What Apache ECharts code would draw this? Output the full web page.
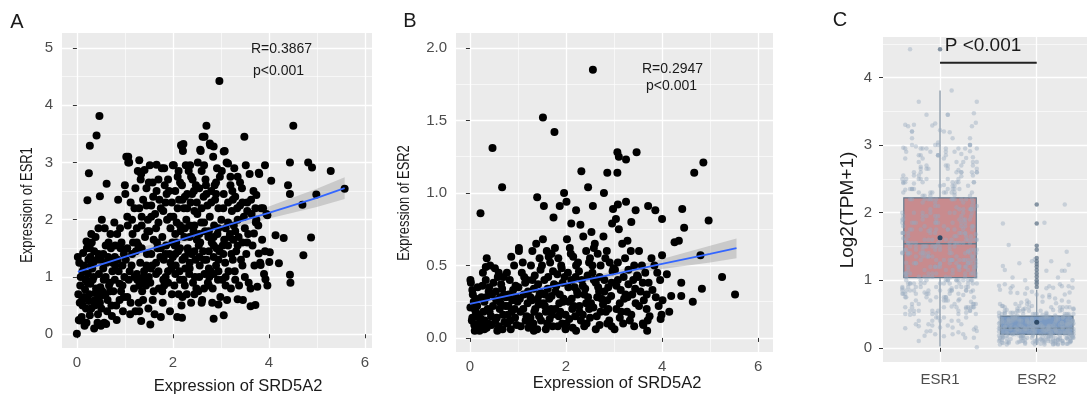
<!DOCTYPE html>
<html>
<head>
<meta charset="utf-8">
<script src="https://cdn.jsdelivr.net/npm/echarts@6/dist/echarts.min.js"></script>
<style>
  html, body { margin: 0; padding: 0; background: #fff; }
  #chart { width: 1087px; height: 399px; }
</style>
</head>
<body>
<div id="chart"></div>
<script>
// panel A: SRD5A2 (x) vs ESR1 (y)
const esr1Sparse = [
  [2.97,4.42],[0.47,3.81],[0.41,3.47],[0.27,3.29],[0.25,2.81],[0.22,2.34],[0.48,2.41],[0.62,2.63],[4.51,3.64],[2.7,3.64],
  [3.49,3.45],[2.66,3.45],[4.82,3.0],[4.9,2.91],[5.29,2.85],[5.58,2.54],[4.99,2.44],[4.7,2.26],[4.44,2.45],[4.4,2.6],
  [4.44,3.0],[4.88,1.69],[4.72,1.38],[4.44,1.04],[4.45,0.9],[4.31,1.68],[4.21,1.24],[4.14,1.73],[4.02,1.43],[4.01,1.26],
  [3.97,2.08],[4.05,2.68],[3.92,2.95],[3.79,2.82],[3.74,2.43],[3.63,2.35],[3.72,2.2],[3.69,1.76],[3.79,1.41],[3.83,1.21],
  [3.93,0.96],[3.76,0.83],[3.72,0.51],[3.62,0.49],[3.35,0.61],[2.85,0.27],[3.06,0.33],[2.95,0.52],[2.19,0.29],[1.53,0.17],
  [1.34,0.23],[0.36,0.1],[0.0,0.01],[0.06,0.24],[0.27,0.33],[1.07,3.1],[1.07,3.0],[1.3,3.04],[1.41,2.87],[1.66,2.96],
  [1.82,2.9],[2.0,2.95],[2.19,3.28],[2.22,3.32],[2.36,2.95],[2.85,3.28],[3.06,3.19],[3.15,2.98],[2.77,3.33],[2.57,3.22],
  [0.02,1.35],[0.05,1.25],[0.12,1.1],[0.08,1.0],[0.18,0.95],[0.03,0.7],[0.15,0.65],[0.06,0.55],[0.1,0.3],[0.04,0.25],
  [0.2,0.2],[0.22,0.9],[0.14,1.2],[0.21,1.5],[0.11,0.6],[0.19,0.45],[0.07,0.85],[0.24,1.3],[0.16,0.15],
  [0.27,1.5],[0.31,1.6],[0.36,1.45],[0.42,1.3],[0.29,1.2],[0.46,1.05],[0.33,0.95],[0.4,0.8],[0.26,0.7],[0.38,0.6],
  [0.48,0.55],[0.3,0.45],[0.44,0.35],[0.39,1.7],[0.47,0.65],[0.28,1.35],[0.35,1.0],[0.43,0.2],[0.5,0.15],[0.32,1.15],
  [0.52,2.0],[0.58,1.85],[0.66,1.6],[0.71,1.5],[0.55,1.4],[0.62,1.25],[0.74,1.1],[0.6,1.0],[0.69,0.9],[0.53,0.75],
  [0.64,0.6],[0.72,0.5],[0.57,0.2],[0.7,1.75],[0.5,1.3],[0.67,0.85],[0.56,0.95],[0.61,0.18],
  [0.78,1.95],[0.84,1.75],[0.91,1.5],[0.98,1.4],[0.8,1.2],[0.87,1.1],[0.95,0.85],[0.76,0.75],[0.89,0.6],[0.82,0.5],
  [0.96,0.4],[0.93,1.6],[0.79,1.35],[0.99,1.0],[0.86,2.35],
  [1.03,3.1],[1.09,3.0],[1.0,2.6],[1.12,2.3],[1.2,2.2],[1.06,1.9],[1.16,1.75],[1.23,1.45],[1.02,1.3],[1.14,1.2],
  [1.08,0.95],[1.19,0.8],[1.05,0.65],[1.22,0.4],[1.11,0.35],[1.17,1.6],[1.25,1.05],[1.01,2.45],
  [1.27,2.85],[1.33,2.7],[1.45,2.55],[1.38,2.35],[1.3,2.2],[1.48,2.0],[1.35,1.9],[1.42,1.7],[1.28,1.55],[1.46,1.4],
  [1.32,1.25],[1.4,1.1],[1.26,0.95],[1.44,0.85],[1.36,0.75],[1.3,0.4],[1.49,0.45],[1.34,2.8],[1.47,1.8],[1.39,1.0],[1.29,0.55],
  [1.52,2.95],[1.58,2.65],[1.66,2.5],[1.72,2.35],[1.55,2.25],[1.63,2.1],[1.7,1.95],[1.51,1.8],[1.6,1.65],[1.68,1.5],
  [1.74,1.35],[1.57,1.2],[1.65,1.05],[1.53,0.9],[1.71,0.8],[1.62,0.35],[1.75,0.3],[1.59,2.4],[1.67,1.6],[1.54,1.15],
  [1.77,2.9],[1.83,2.6],[1.92,2.5],[1.98,2.3],[1.8,2.15],[1.88,2.0],[1.95,1.85],[1.78,1.7],[1.86,1.55],[1.93,1.4],
  [1.81,1.3],[1.97,1.15],[1.85,1.0],[1.9,0.9],[1.79,0.55],[1.94,0.4],[1.87,2.45],[1.99,1.6],[1.82,0.85],
  [2.17,3.3],[2.21,3.2],[2.02,2.95],[2.1,2.75],[2.19,2.6],[2.05,2.5],[2.13,2.35],[2.23,2.2],[2.01,2.05],[2.08,1.95],
  [2.16,1.8],[2.24,1.7],[2.04,1.55],[2.11,1.45],[2.2,1.3],[2.06,1.2],[2.14,1.1],[2.22,0.95],[2.03,0.85],[2.12,0.7],
  [2.18,0.5],[2.09,0.3],[2.15,2.65],[2.25,2.4],[2.07,1.6],[2.0,1.35],
  [2.27,2.95],[2.33,2.85],[2.41,2.7],[2.48,2.6],[2.3,2.45],[2.37,2.3],[2.45,2.15],[2.28,2.0],[2.35,1.9],[2.43,1.8],
  [2.5,1.65],[2.31,1.5],[2.39,1.4],[2.47,1.3],[2.26,1.15],[2.34,1.05],[2.42,0.9],[2.49,0.8],[2.29,0.7],[2.38,0.55],
  [2.44,2.5],[2.32,1.45],[2.46,1.0],
  [2.62,3.45],[2.58,3.2],[2.52,3.0],[2.6,2.85],[2.68,2.7],[2.55,2.55],[2.64,2.4],[2.72,2.25],[2.51,2.1],[2.59,1.95],
  [2.67,1.8],[2.74,1.7],[2.54,1.55],[2.63,1.45],[2.7,1.3],[2.56,1.2],[2.66,1.05],[2.73,0.9],[2.53,0.75],[2.61,0.6],
  [2.69,2.6],[2.57,1.6],[2.75,0.85],
  [2.78,3.3],[2.84,3.1],[2.92,2.9],[2.98,2.75],[2.8,2.5],[2.88,2.35],[2.95,2.2],[2.77,2.05],[2.86,1.9],[2.93,1.75],
  [2.81,1.6],[2.97,1.45],[2.85,1.35],[2.9,1.2],[2.79,1.1],[2.94,0.95],[2.83,0.8],[2.99,0.65],[2.87,2.6],[2.91,1.5],[2.76,1.0],
  [3.08,3.2],[3.12,3.0],[3.02,2.85],[3.2,2.6],[3.06,2.45],[3.15,2.3],[3.23,2.15],[3.01,2.0],[3.1,1.85],[3.18,1.7],
  [3.04,1.55],[3.22,1.4],[3.09,1.25],[3.16,1.1],[3.03,0.95],[3.21,0.8],[3.13,0.6],[3.24,2.5],[3.07,1.65],[3.19,1.75],
  [3.28,2.9],[3.35,2.75],[3.44,2.55],[3.3,2.4],[3.4,2.25],[3.48,2.05],[3.27,1.9],[3.37,1.7],[3.45,1.6],[3.32,1.45],
  [3.42,1.3],[3.29,1.1],[3.38,0.85],[3.46,0.6],[3.34,2.2],[3.26,1.65],
  [3.52,2.95],[3.6,2.8],[3.68,2.5],[3.55,2.3],[3.64,2.1],[3.73,1.95],[3.57,1.75],[3.66,1.55],[3.53,1.4],[3.7,1.2],
  [3.58,0.9],[3.62,0.8],[3.74,2.0],
  [3.8,2.8],[3.88,2.2],[3.95,2.1],[3.78,1.9],[3.86,1.65],[3.92,1.45],[3.82,1.25],[3.9,1.05],[3.97,0.85],[3.84,2.2]
];
// the dense middle of panel A
const esr1Core = [
  [0.13,1.42],[0.23,1.05],[0.34,1.25],[0.45,1.4],[0.55,1.15],[0.65,1.35],[0.75,1.25],[0.85,1.3],[0.95,1.2],[0.17,0.78],
  [0.28,0.88],[0.39,0.72],[0.49,0.82],[0.59,0.68],[0.69,0.75],[0.79,0.95],[0.89,0.88],[0.98,0.65],[0.12,0.5],[0.25,0.58],
  [0.37,0.5],[0.51,0.45],[0.63,0.4],[0.73,0.32],[0.83,0.25],[0.92,0.75],[0.3,1.75],[0.45,1.85],[0.6,1.55],[0.8,1.55],
  [0.9,1.85],[0.2,1.62],
  [1.05,1.5],[1.15,1.4],[1.25,1.6],[1.35,1.5],[1.45,1.2],[1.55,1.4],[1.65,1.25],[1.75,1.5],[1.85,1.4],[1.95,1.25],
  [1.1,1.1],[1.2,1.0],[1.3,0.85],[1.4,0.9],[1.5,1.0],[1.6,0.75],[1.7,1.1],[1.8,0.95],[1.9,1.1],[1.05,2.05],
  [1.15,2.0],[1.25,1.85],[1.35,2.05],[1.45,2.25],[1.55,2.05],[1.65,1.85],[1.75,2.2],[1.85,2.3],[1.95,2.05],[1.12,0.55],
  [1.38,0.6],[1.58,0.6],[1.78,0.75],[1.98,0.7],[1.22,2.55],[1.5,2.65],[1.7,2.7],[1.9,2.7],
  [2.05,1.75],[2.15,1.9],[2.25,1.85],[2.35,1.7],[2.45,1.9],[2.55,1.75],[2.65,1.95],[2.75,1.8],[2.85,1.7],[2.95,1.85],
  [2.05,1.4],[2.15,1.5],[2.25,1.35],[2.35,1.25],[2.45,1.45],[2.55,1.35],[2.65,1.3],[2.75,1.45],[2.85,1.55],[2.95,1.3],
  [2.05,1.05],[2.15,0.95],[2.25,0.85],[2.35,1.15],[2.45,0.7],[2.55,1.0],[2.65,0.8],[2.75,1.15],[2.85,1.05],[2.95,1.1],
  [2.1,2.2],[2.2,2.35],[2.3,2.2],[2.4,2.45],[2.5,2.3],[2.6,2.2],[2.7,2.45],[2.8,2.3],[2.9,2.45],[2.12,2.85],
  [2.38,2.75],[2.65,2.95],[2.9,2.65],[2.2,0.65],[2.6,0.55],[2.82,0.55],
  [3.05,2.2],[3.15,1.95],[3.25,2.35],[3.35,2.0],[3.45,2.3],[3.55,2.15],[3.05,1.4],[3.15,1.55],[3.25,1.3],[3.35,1.55],
  [3.45,1.2],[3.55,1.6],[3.1,0.85],[3.3,0.95],[3.5,1.0],[3.2,2.75],[3.4,2.65],[3.1,1.0],[3.3,1.8],[3.5,1.85]
];

// panel B: SRD5A2 (x) vs ESR2 (y)
const esr2Sparse = [
  [2.56,1.85],[1.52,1.52],[1.76,1.42],[0.47,1.31],[0.67,1.04],[0.22,0.86],[3.07,1.28],[3.1,1.25],[3.25,1.23],[3.47,1.28],
  [3.07,1.14],[2.32,1.15],[2.86,1.14],[2.46,1.04],[2.79,1.0],[1.4,0.97],[1.96,1.0],[4.67,1.14],[4.86,1.21],[4.42,0.89],
  [4.97,0.81],[4.46,0.76],[4.0,0.82],[3.86,0.88],[3.71,0.91],[3.45,0.88],[3.25,0.94],[3.08,0.92],[4.26,0.66],[4.35,0.67],
  [5.25,0.42],[5.52,0.3],[4.83,0.34],[4.64,0.25],[4.4,0.38],[4.4,0.29],[4.19,0.29],[4.15,0.18],[3.97,0.13],[4.01,0.26],
  [4.1,0.44],[4.8,0.57],[4.0,0.57],[3.69,0.05],[3.61,0.09],[3.01,0.06],[2.21,0.05],[1.33,0.05],[0.1,0.05],[0.01,0.21],
  [0.01,0.4],[1.54,0.91],[1.74,0.83],[1.87,0.91],[2.01,0.94],[2.21,0.88],[2.56,0.91],[2.98,0.89],[2.96,0.79],[3.36,0.8],
  [2.11,0.79],[1.02,0.62],[0.86,0.56],[0.35,0.55],[0.33,0.49],
  [0.02,0.38],[0.06,0.3],[0.1,0.2],[0.14,0.15],[0.04,0.12],[0.18,0.1],[0.22,0.08],[0.08,0.25],[0.16,0.35],[0.12,0.18],
  [0.2,0.05],[0.24,0.28],[0.05,0.14],[0.15,0.22],
  [0.27,0.45],[0.33,0.4],[0.4,0.35],[0.46,0.3],[0.3,0.25],[0.37,0.2],[0.44,0.15],[0.26,0.1],[0.35,0.07],[0.42,0.5],
  [0.48,0.22],[0.31,0.12],[0.39,0.32],[0.28,0.18],[0.45,0.09],
  [0.52,0.48],[0.58,0.42],[0.65,0.37],[0.71,0.3],[0.55,0.26],[0.62,0.2],[0.69,0.16],[0.53,0.12],[0.6,0.08],[0.67,0.34],
  [0.74,0.22],[0.57,0.05],[0.63,0.28],[0.72,0.11],
  [0.77,0.45],[0.83,0.4],[0.9,0.33],[0.96,0.28],[0.8,0.22],[0.87,0.18],[0.94,0.14],[0.78,0.1],[0.85,0.06],[0.92,0.5],
  [0.99,0.25],[0.81,0.3],[0.97,0.09],
  [1.02,0.6],[1.08,0.45],[1.15,0.38],[1.21,0.32],[1.04,0.27],[1.11,0.2],[1.18,0.15],[1.24,0.1],[1.06,0.08],[1.13,0.42],
  [1.2,0.24],[1.01,0.35],[1.16,0.12],
  [1.38,0.65],[1.3,0.6],[1.45,0.55],[1.27,0.5],[1.35,0.43],[1.42,0.37],[1.48,0.31],[1.29,0.26],[1.36,0.2],[1.44,0.15],
  [1.32,0.1],[1.4,0.06],[1.47,0.47],[1.26,0.28],[1.34,0.18],[1.43,0.23],
  [1.52,0.68],[1.6,0.6],[1.67,0.52],[1.73,0.46],[1.55,0.4],[1.62,0.34],[1.7,0.29],[1.53,0.24],[1.58,0.18],[1.66,0.13],
  [1.72,0.08],[1.64,0.56],[1.56,0.3],[1.69,0.2],[1.75,0.37],[1.61,0.1],
  [1.77,0.62],[1.84,0.55],[1.91,0.48],[1.97,0.42],[1.8,0.36],[1.87,0.3],[1.94,0.25],[1.78,0.2],[1.85,0.15],[1.92,0.1],
  [1.99,0.06],[1.82,0.44],[1.95,0.27],[1.88,0.18],
  [2.02,0.68],[2.08,0.62],[2.15,0.56],[2.21,0.5],[2.04,0.45],[2.11,0.4],[2.18,0.35],[2.24,0.3],[2.06,0.25],[2.13,0.2],
  [2.19,0.15],[2.01,0.1],[2.1,0.58],[2.23,0.32],[2.16,0.22],[2.07,0.13],
  [2.3,0.78],[2.36,0.7],[2.42,0.6],[2.48,0.52],[2.27,0.46],[2.33,0.4],[2.4,0.34],[2.46,0.28],[2.28,0.22],[2.35,0.16],
  [2.43,0.1],[2.5,0.55],[2.38,0.3],[2.45,0.43],[2.31,0.12],
  [2.53,0.73],[2.6,0.65],[2.66,0.58],[2.72,0.5],[2.55,0.45],[2.62,0.38],[2.69,0.32],[2.74,0.27],[2.57,0.21],[2.64,0.15],
  [2.7,0.09],[2.58,0.62],[2.67,0.35],[2.52,0.24],
  [2.78,0.7],[2.85,0.6],[2.91,0.52],[2.97,0.46],[2.8,0.4],[2.88,0.35],[2.94,0.29],[2.77,0.23],[2.83,0.18],[2.9,0.12],
  [2.99,0.48],[2.86,0.26],[2.95,0.08],
  [3.04,0.82],[3.1,0.75],[3.17,0.65],[3.23,0.55],[3.02,0.47],[3.08,0.4],[3.14,0.33],[3.21,0.27],[3.05,0.2],[3.12,0.14],
  [3.19,0.1],[3.24,0.3],
  [3.28,0.67],[3.35,0.6],[3.42,0.5],[3.48,0.43],[3.3,0.37],[3.38,0.3],[3.45,0.24],[3.27,0.18],[3.33,0.12],[3.4,0.4],
  [3.52,0.6],[3.58,0.5],[3.65,0.45],[3.72,0.38],[3.55,0.32],[3.62,0.26],[3.68,0.2],[3.74,0.15],[3.6,0.1],
  [3.78,0.55],[3.84,0.5],[3.9,0.45],[3.96,0.4],[3.8,0.33],[3.87,0.28],[3.93,0.22],[3.99,0.16]
];
// the dense bottom of panel B
const esr2Core = [
  [0.05,0.33],[0.12,0.27],[0.19,0.16],[0.26,0.36],[0.34,0.28],[0.41,0.18],[0.49,0.38],[0.56,0.14],[0.64,0.24],[0.7,0.42],
  [0.79,0.16],[0.88,0.26],[0.95,0.36],[0.09,0.09],[0.23,0.13],[0.38,0.1],[0.54,0.32],[0.68,0.06],[0.84,0.12],[0.93,0.2],
  [0.3,0.06],[0.6,0.45],[0.75,0.28],
  [1.05,0.18],[1.12,0.3],[1.19,0.4],[1.26,0.14],[1.33,0.34],[1.41,0.27],[1.48,0.12],[1.56,0.22],[1.63,0.42],[1.71,0.16],
  [1.78,0.32],[1.86,0.24],[1.93,0.38],[1.99,0.16],[1.1,0.52],[1.3,0.4],[1.5,0.5],[1.7,0.58],[1.9,0.5],[1.22,0.07],
  [1.58,0.06],[1.83,0.08],[1.45,0.3],[1.65,0.27],
  [2.05,0.35],[2.12,0.27],[2.2,0.42],[2.28,0.18],[2.35,0.36],[2.42,0.24],[2.5,0.14],[2.58,0.4],[2.65,0.28],[2.72,0.18],
  [2.8,0.32],[2.88,0.2],[2.95,0.38],[2.14,0.07],[2.38,0.08],[2.62,0.06],[2.86,0.1],[2.25,0.52],[2.55,0.5],[2.82,0.55],
  [2.48,0.2],[2.7,0.42],
  [3.05,0.36],[3.12,0.24],[3.2,0.42],[3.28,0.28],[3.36,0.16],[3.44,0.34],[3.52,0.22],[3.6,0.38],[3.68,0.3],[3.08,0.52],
  [3.3,0.47],[3.5,0.42],[3.15,0.18],[3.42,0.08],[3.7,0.12]
];

// fitted lines and confidence bands
const fitAX = [0.02, 1, 2, 3, 4, 5, 5.58];
const fitAY = [1.09, 1.35, 1.61, 1.87, 2.12, 2.38, 2.55];
const fitALo = [0.97, 1.26, 1.55, 1.79, 2.02, 2.22, 2.36];
const fitAHi = [1.21, 1.44, 1.67, 1.95, 2.23, 2.54, 2.74];

const fitBX = [0.0, 1, 2, 3, 4, 5, 5.55];
const fitBY = [0.235, 0.305, 0.375, 0.44, 0.51, 0.58, 0.62];
const fitBLo = [0.2, 0.285, 0.36, 0.42, 0.475, 0.52, 0.55];
const fitBHi = [0.27, 0.325, 0.39, 0.46, 0.545, 0.635, 0.685];

// panel C: boxes [x, whiskerLow, q1, median, q3, whiskerHigh]
const boxNames = ['ESR1', 'ESR2'];
const boxStats = [
  [1, 0.02, 1.04, 1.54, 2.22, 3.81],
  [2, 0.04, 0.2, 0.29, 0.47, 0.86]
];
const boxMeans = [[1, 1.63], [2, 0.38]];
const esr1Outliers = [4.42];
const esr2Outliers = [2.12, 1.84, 1.51, 1.45, 1.33, 1.28, 1.24, 1.2, 1.15, 1.1, 1.05, 1.0, 0.95, 0.9];
const extraEsr2 = [2.12, 1.84];
const jitterOffsets = [-0.31,0.12,0.35,-0.08,0.27,-0.36,0.04,0.19,-0.22,0.38,-0.14,0.08,-0.29,0.31,-0.02,0.22,
  -0.38,0.15,-0.18,0.33,-0.05,0.26,-0.33,0.1,-0.25,0.37,0.0,-0.12,0.29,-0.35,0.17,-0.2,0.06,0.34,-0.27,0.13,
  -0.1,0.24,-0.39,0.2,-0.16,0.32,-0.04];
const sigBar = [[1, 4.22], [2, 4.22]];

const FONT = "'Liberation Sans', Arial, sans-serif";
const boxFill = ['#c88b8e', '#7b9ac2'];

const esr1Points = esr1Sparse.concat(esr1Core);
const esr2Points = esr2Sparse.concat(esr2Core);

const jitterC = [];
esr1Points.forEach((p, i) => jitterC.push([1 + jitterOffsets[i % jitterOffsets.length], p[1]]));
esr2Points.concat(extraEsr2.map((v) => [0, v])).forEach((p, i) =>
  jitterC.push([2 + jitterOffsets[(i + 11) % jitterOffsets.length], p[1]]));
const outlierC = esr1Outliers.map((v) => [1, v]).concat(esr2Outliers.map((v) => [2, v]));

function mainAxis(grid, min, max, ticks, margin, formatter) {
  return {
    gridIndex: grid, type: 'value', min: min, max: max,
    axisLine: { show: false },
    axisTick: { show: true, length: 4, lineStyle: { color: '#333', width: 1 }, customValues: ticks },
    axisLabel: { show: true, customValues: ticks, color: '#4d4d4d', fontSize: 15, fontFamily: FONT, margin: margin, formatter: formatter },
    splitLine: { show: true, lineStyle: { color: '#fff', width: 1.3 } }
  };
}
function minorAxis(grid, min, max, ticks, pos) {
  return {
    gridIndex: grid, type: 'value', min: min, max: max, position: pos,
    axisLine: { show: false },
    axisTick: { show: false, customValues: ticks },
    axisLabel: { show: false, customValues: ticks },
    splitLine: { show: true, lineStyle: { color: '#fff', width: 0.6 } }
  };
}

function bandRenderer(xs, lo, hi) {
  return function (params, api) {
    const pts = [];
    xs.forEach((x, i) => pts.push(api.coord([x, hi[i]])));
    for (let i = xs.length - 1; i >= 0; i--) pts.push(api.coord([xs[i], lo[i]]));
    return { type: 'polygon', shape: { points: pts }, style: { fill: 'rgba(153,153,153,0.4)' } };
  };
}

function boxRenderer(params, api) {
  const x = api.value(0);
  const low = api.coord([x, api.value(1)]);
  const q1 = api.coord([x, api.value(2)]);
  const med = api.coord([x, api.value(3)]);
  const q3 = api.coord([x, api.value(4)]);
  const high = api.coord([x, api.value(5)]);
  const hw = api.size([0.75, 0])[0] / 2;
  const edge = '#647a8e';
  return {
    type: 'group',
    children: [
      { type: 'line', shape: { x1: low[0], y1: low[1], x2: q1[0], y2: q1[1] }, style: { stroke: '#7d8e9e', lineWidth: 1.2 } },
      { type: 'line', shape: { x1: q3[0], y1: q3[1], x2: high[0], y2: high[1] }, style: { stroke: '#7d8e9e', lineWidth: 1.2 } },
      { type: 'rect', shape: { x: q1[0] - hw, y: q3[1], width: hw * 2, height: q1[1] - q3[1] },
        style: { fill: boxFill[params.dataIndex], stroke: edge, lineWidth: 1.2 } },
      { type: 'line', shape: { x1: med[0] - hw, y1: med[1], x2: med[0] + hw, y2: med[1] }, style: { stroke: edge, lineWidth: 1.6 } }
    ]
  };
}

function txt(text, x, y, size, align, extra) {
  return Object.assign({
    type: 'text', x: x, y: y, z: 100,
    style: { text: text, font: size + 'px ' + FONT, fill: '#1a1a1a', textAlign: align, align: align,
             textVerticalAlign: 'middle', verticalAlign: 'middle' }
  }, extra || {});
}

const chart = echarts.init(document.getElementById('chart'));
chart.setOption({
  animation: false,
  backgroundColor: '#fff',
  grid: [
    { left: 62, top: 33, width: 310, height: 315, show: true, backgroundColor: '#ebebeb', borderWidth: 0 },
    { left: 456, top: 33, width: 317, height: 319, show: true, backgroundColor: '#ebebeb', borderWidth: 0 },
    { left: 883, top: 37, width: 204, height: 325, show: true, backgroundColor: '#ebebeb', borderWidth: 0 }
  ],
  xAxis: [
    mainAxis(0, -0.31, 6.15, [0, 2, 4, 6], 7),
    minorAxis(0, -0.31, 6.15, [1, 3, 5], 'top'),
    mainAxis(1, -0.29, 6.31, [0, 2, 4, 6], 7),
    minorAxis(1, -0.29, 6.31, [1, 3, 5], 'top'),
    mainAxis(2, 0.41, 2.52, [1, 2], 10, (v) => boxNames[Math.round(v) - 1])
  ],
  yAxis: [
    mainAxis(0, -0.24, 5.26, [0, 1, 2, 3, 4, 5], 9),
    minorAxis(0, -0.24, 5.26, [0.5, 1.5, 2.5, 3.5, 4.5], 'right'),
    mainAxis(1, -0.097, 2.103, [0, 0.5, 1, 1.5, 2], 9, (v) => v.toFixed(1)),
    minorAxis(1, -0.097, 2.103, [0.25, 0.75, 1.25, 1.75], 'right'),
    mainAxis(2, -0.21, 4.6, [0, 1, 2, 3, 4], 11),
    minorAxis(2, -0.21, 4.6, [0.5, 1.5, 2.5, 3.5, 4.5], 'right')
  ],
  series: [
    { type: 'scatter', xAxisIndex: 0, yAxisIndex: 0, data: esr1Points, symbolSize: 8,
      itemStyle: { color: '#000', opacity: 1 }, silent: true },
    { type: 'custom', xAxisIndex: 0, yAxisIndex: 0, data: [[0, 0]], renderItem: bandRenderer(fitAX, fitALo, fitAHi), silent: true },
    { type: 'line', xAxisIndex: 0, yAxisIndex: 0, data: fitAX.map((x, i) => [x, fitAY[i]]), showSymbol: false,
      lineStyle: { color: '#3366ff', width: 1.8 }, silent: true },

    { type: 'scatter', xAxisIndex: 2, yAxisIndex: 2, data: esr2Points, symbolSize: 8,
      itemStyle: { color: '#000', opacity: 1 }, silent: true },
    { type: 'custom', xAxisIndex: 2, yAxisIndex: 2, data: [[0, 0]], renderItem: bandRenderer(fitBX, fitBLo, fitBHi), silent: true },
    { type: 'line', xAxisIndex: 2, yAxisIndex: 2, data: fitBX.map((x, i) => [x, fitBY[i]]), showSymbol: false,
      lineStyle: { color: '#3366ff', width: 1.8 }, silent: true },

    { type: 'custom', xAxisIndex: 4, yAxisIndex: 4, data: boxStats, renderItem: boxRenderer, silent: true },
    { type: 'scatter', xAxisIndex: 4, yAxisIndex: 4, data: jitterC, symbolSize: 4.5,
      itemStyle: { color: 'rgb(150,170,190)', opacity: 0.42 }, silent: true },
    { type: 'scatter', xAxisIndex: 4, yAxisIndex: 4, data: outlierC, symbolSize: 4.5,
      itemStyle: { color: 'rgb(95,115,135)', opacity: 0.75 }, silent: true },
    { type: 'scatter', xAxisIndex: 4, yAxisIndex: 4, data: boxMeans, symbolSize: 5,
      itemStyle: { color: '#2f4a66', opacity: 1 }, silent: true },
    { type: 'line', xAxisIndex: 4, yAxisIndex: 4, data: sigBar, showSymbol: false,
      lineStyle: { color: '#222', width: 2 }, silent: true }
  ],
  graphic: [
    txt('A', 17, 22, 20, 'center'),
    txt('B', 410, 21, 20, 'center'),
    txt('C', 840, 20, 20, 'center'),
    txt('R=0.3867', 251, 49, 14, 'left'),
    txt('p<0.001', 253, 71, 14, 'left'),
    txt('R=0.2947', 642, 69, 14, 'left'),
    txt('p<0.001', 646, 86, 14, 'left'),
    txt('P <0.001', 983, 46, 19, 'center'),
    txt('Expression of SRD5A2', 238, 386, 16.5, 'center'),
    txt('Expression of SRD5A2', 617, 383, 16.5, 'center'),
    txt('Expression of ESR1', 27, 205, 17, 'center', { rotation: Math.PI / 2, scaleX: 0.76 }),
    txt('Expression of ESR2', 404, 203, 17, 'center', { rotation: Math.PI / 2, scaleX: 0.76 }),
    txt('Log2(TPM+1)', 848, 210, 19, 'center', { rotation: Math.PI / 2 })
  ]
});
</script>
</body>
</html>
